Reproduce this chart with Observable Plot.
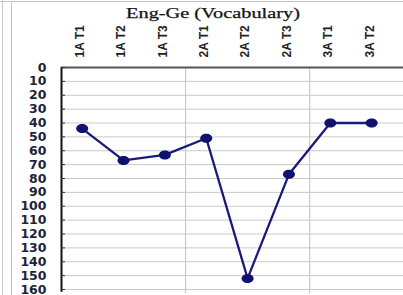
<!DOCTYPE html>
<html>
<head>
<meta charset="utf-8">
<script src="https://cdn.jsdelivr.net/npm/d3@7"></script>
<script src="https://cdn.jsdelivr.net/npm/@observablehq/plot@0.6"></script>
<style>
  html, body { margin: 0; padding: 0; background: #fff; overflow: hidden; }
  #wrap { position: relative; width: 403px; height: 295px; overflow: hidden; }
  #chart { position: absolute; left: 0; top: 0; }
  .bl { position: absolute; background: #c4c4c4; }
  #title { position: absolute; left: 213px; top: 6px; font-family: "Liberation Serif", "Times New Roman", serif;
           font-size: 14px; line-height: 16px; color: #151515; white-space: nowrap;
           -webkit-text-stroke: 0.25px #151515;
           transform: translateX(-50%) scaleX(1.45); transform-origin: center; }
</style>
</head>
<body>
<div id="wrap">
  <div id="chart"></div>
  <div class="bl" style="left:2px;top:0;width:1px;height:295px"></div>
  <div class="bl" style="left:11px;top:2px;width:1px;height:293px"></div>
  <div class="bl" style="left:0;top:1px;width:403px;height:1px"></div>
  <div id="title">Eng-Ge (Vocabulary)</div>
</div>
<script>
const categories = ["1A T1", "1A T2", "1A T3", "2A T1", "2A T2", "2A T3", "3A T1", "3A T2"];
const groups = ["1A", "1A", "1A", "2A", "2A", "2A", "3A", "3A"];
const values = [44, 67, 63, 51, 152, 77, 40, 40];
const yTicks = [0, 10, 20, 30, 40, 50, 60, 70, 80, 90, 100, 110, 120, 130, 140, 150, 160];

const idx = categories.map((d, i) => i);
const dividers = idx.filter(i => i > 0 && groups[i] !== groups[i - 1]).map(i => i - 0.5);

const ellipse = {
  draw(ctx) {
    const rx = 6, ry = 4.5, k = 0.5523;
    ctx.moveTo(rx, 0);
    ctx.bezierCurveTo(rx, ry * k, rx * k, ry, 0, ry);
    ctx.bezierCurveTo(-rx * k, ry, -rx, ry * k, -rx, 0);
    ctx.bezierCurveTo(-rx, -ry * k, -rx * k, -ry, 0, -ry);
    ctx.bezierCurveTo(rx * k, -ry, rx, -ry * k, rx, 0);
    ctx.closePath();
  }
};

const chart = Plot.plot({
  width: 403,
  height: 295,
  marginLeft: 61,
  marginRight: 0,
  marginTop: 67,
  marginBottom: 6,
  style: { background: "transparent", overflow: "hidden" },
  x: { type: "linear", domain: [-0.5, 7.77], axis: null },
  y: { domain: [0, 160], reverse: true, axis: null },
  marks: [
    Plot.ruleY(yTicks.slice(1), { stroke: "#c9c9c9", strokeWidth: 1 }),
    Plot.ruleX(dividers, { stroke: "#c9c9c9", strokeWidth: 1.2, y2: 163 }),
    Plot.ruleY([0], { stroke: "#555", strokeWidth: 2 }),
    Plot.ruleX([-0.5], { stroke: "#111", strokeWidth: 2, y1: 0, y2: 162 }),
    Plot.axisY({
      ticks: yTicks, anchor: "left", tickSize: -4, tickPadding: 19, stroke: "#333",
      fill: "#1d2436", fontSize: 12.5, fontWeight: "bold", fontFamily: "DejaVu Sans",
      label: null
    }),
    Plot.text(categories, {
      x: (d, i) => i, frameAnchor: "top", dy: -10, dx: -2, rotate: -90,
      textAnchor: "start", lineAnchor: "middle", fontSize: 12, fontWeight: "bold",
      fontFamily: "Liberation Sans", fill: "#222"
    }),
    Plot.line(values, { x: (d, i) => i, y: d => d, stroke: "#1a1a78", strokeWidth: 2.3 }),
    Plot.dot(values, { x: (d, i) => i, y: d => d, symbol: ellipse, fill: "#10106e", stroke: "none" })
  ]
});
document.getElementById("chart").appendChild(chart);
</script>
</body>
</html>
